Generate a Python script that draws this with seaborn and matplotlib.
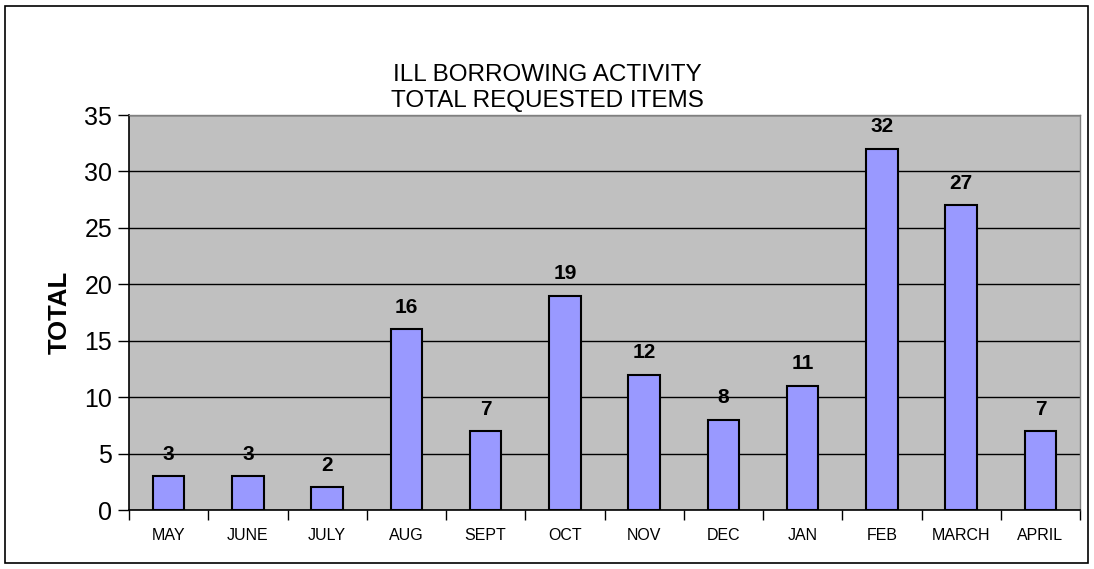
import matplotlib
matplotlib.use("Agg")
import matplotlib.pyplot as plt
import seaborn as sns
import pandas as pd
from matplotlib.patches import Rectangle

# Donnees
months = ["MAY", "JUNE", "JULY", "AUG", "SEPT", "OCT", "NOV", "DEC", "JAN", "FEB", "MARCH", "APRIL"]
totals = [3, 3, 2, 16, 7, 19, 12, 8, 11, 32, 27, 7]

df = pd.DataFrame({"month": months, "total": totals})

sns.set_style("white")
plt.rcParams["font.family"] = ["Liberation Sans", "DejaVu Sans"]
plt.rcParams["text.color"] = "black"
plt.rcParams["axes.labelcolor"] = "black"
plt.rcParams["xtick.color"] = "black"
plt.rcParams["ytick.color"] = "black"

fig = plt.figure(figsize=(10.94, 5.69), dpi=100)
ax = fig.add_axes([129 / 1094, 1 - 510 / 569, (1080 - 129) / 1094, (510 - 115) / 569])

sns.barplot(data=df, x="month", y="total", color="#9999FF", saturation=1,
            width=0.4, edgecolor="black", linewidth=1.5, ax=ax, zorder=3)

ax.set_facecolor("#C0C0C0")
ax.set_ylim(0, 35)
ax.set_xlim(-0.5, len(months) - 0.5)
ax.set_yticks(range(0, 36, 5))
ax.yaxis.grid(True, color="black", linewidth=1)
ax.set_axisbelow(True)
ax.tick_params(axis="y", labelsize=18, length=8, width=1, direction="out", left=True, pad=4)
ax.tick_params(axis="x", labelsize=11.5, length=0, pad=13)

# ticks aux limites des categories
ax.set_xticks([i - 0.5 for i in range(len(months) + 1)], minor=True)
ax.tick_params(axis="x", which="minor", length=7, width=1, bottom=True, direction="out")

for s in ["top", "right"]:
    ax.spines[s].set_color("#808080")
    ax.spines[s].set_linewidth(1)
for s in ["left", "bottom"]:
    ax.spines[s].set_color("black")
    ax.spines[s].set_linewidth(1.2)

ax.set_xlabel("")
ax.set_ylabel("TOTAL", fontsize=18.5, fontweight="bold", labelpad=9)

for i, v in enumerate(totals):
    ax.text(i, v + 1.1, str(v), ha="center", va="bottom", fontsize=15, fontweight="bold")

fig.text(0.5, 1 - 88 / 569, "ILL BORROWING ACTIVITY\nTOTAL REQUESTED ITEMS",
         ha="center", va="center", fontsize=17.5, linespacing=1.25)

fig.patches.append(Rectangle((5 / 1094, 1 - 563 / 569), 1083 / 1094, 557 / 569,
                             transform=fig.transFigure, fill=False,
                             edgecolor="black", linewidth=1.2))

fig.savefig("out.png", dpi=100)
